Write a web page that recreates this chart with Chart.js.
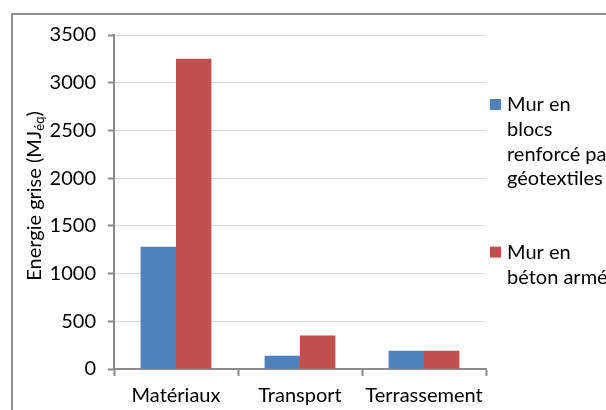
<!DOCTYPE html>
<html>
<head>
<meta charset="utf-8">
<script src="https://cdn.jsdelivr.net/npm/chart.js@4"></script>
<style>
  html, body { margin: 0; padding: 0; background: #fff; overflow: hidden; }
  #wrap { width: 606px; height: 410px; position: relative; }
</style>
</head>
<body>
<div id="wrap"><canvas id="c" width="606" height="410"></canvas></div>
<script>
// Embodied energy by stage for two retaining-wall designs
const categories = ['Matériaux', 'Transport', 'Terrassement'];
const seriesLines = [
  ['Mur en', 'blocs', 'renforcé par', 'géotextiles'],
  ['Mur en', 'béton armé']
];
const wallBlocks = [1280, 140, 190];
const wallConcrete = [3250, 350, 190];
const yTicks = [0, 500, 1000, 1500, 2000, 2500, 3000, 3500];
const yTitleParts = ['Energie grise (MJ', 'éq', ')'];

const FONT = 'Lato';
const TEXT_SIZE = 20;
const AXIS_GREY = '#8a8a8a';
const colors = ['#4F81BD', '#C0504D'];

// White page with the grey outer frame
const framePlugin = {
  id: 'frame',
  beforeDraw(chart) {
    const ctx = chart.ctx;
    ctx.save();
    ctx.fillStyle = '#fff';
    ctx.fillRect(0, 0, chart.width, chart.height);
    ctx.strokeStyle = '#8e8e8e';
    ctx.lineWidth = 2;
    ctx.strokeRect(12, 14, 700, 500);
    ctx.restore();
  }
};

// Rotated y-axis title with a subscript unit
const yTitlePlugin = {
  id: 'yTitle',
  afterDraw(chart) {
    const ctx = chart.ctx;
    const area = chart.chartArea;
    const subSize = 13;
    ctx.save();
    ctx.translate(35, (area.top + area.bottom) / 2 - 6);
    ctx.rotate(-Math.PI / 2);
    ctx.fillStyle = '#000';
    ctx.textBaseline = 'middle';
    ctx.textAlign = 'left';
    ctx.font = `${TEXT_SIZE}px ${FONT}`;
    const w1 = ctx.measureText(yTitleParts[0]).width;
    const w3 = ctx.measureText(yTitleParts[2]).width;
    ctx.font = `${subSize}px ${FONT}`;
    const w2 = ctx.measureText(yTitleParts[1]).width;
    let x = -(w1 + w2 + w3) / 2;
    ctx.font = `${TEXT_SIZE}px ${FONT}`;
    ctx.fillText(yTitleParts[0], x, 0);
    x += w1;
    ctx.font = `${subSize}px ${FONT}`;
    ctx.fillText(yTitleParts[1], x, 5);
    x += w2;
    ctx.font = `${TEXT_SIZE}px ${FONT}`;
    ctx.fillText(yTitleParts[2], x, 0);
    ctx.restore();
  }
};

// Legend on the right, with each series name wrapped over several lines
const sideLegendPlugin = {
  id: 'sideLegend',
  afterDraw(chart) {
    const ctx = chart.ctx;
    const lineH = 24.6;
    const boxX = 490, textX = 507, box = 11;
    let y = 105;
    ctx.save();
    ctx.font = `${TEXT_SIZE}px ${FONT}`;
    ctx.textBaseline = 'middle';
    ctx.textAlign = 'left';
    chart.data.datasets.forEach((ds, i) => {
      ctx.fillStyle = ds.backgroundColor;
      ctx.fillRect(boxX, y - 6, box, box);
      ctx.fillStyle = '#000';
      seriesLines[i].forEach((line, k) => {
        ctx.fillText(line, textX, y + k * lineH);
      });
      y += (seriesLines[i].length + 2) * lineH;
    });
    ctx.restore();
  }
};

new Chart(document.getElementById('c'), {
  type: 'bar',
  data: {
    labels: categories,
    datasets: [
      { label: seriesLines[0].join(' '), data: wallBlocks, backgroundColor: colors[0] },
      { label: seriesLines[1].join(' '), data: wallConcrete, backgroundColor: colors[1] }
    ]
  },
  options: {
    responsive: false,
    animation: false,
    devicePixelRatio: 1,
    layout: { padding: { left: 0, top: 35, right: 120, bottom: 0 } },
    datasets: { bar: { barPercentage: 1, categoryPercentage: 0.571 } },
    plugins: { legend: { display: false }, tooltip: { enabled: false } },
    scales: {
      x: {
        grid: { offset: true, drawOnChartArea: false, tickLength: 7, tickColor: AXIS_GREY, tickWidth: 2 },
        border: { color: AXIS_GREY, width: 2 },
        ticks: { font: { family: FONT, size: TEXT_SIZE }, color: '#000', padding: 8, maxRotation: 0 },
        afterFit(s) { s.height = 41; }
      },
      y: {
        min: 0,
        max: 3500,
        afterBuildTicks(s) { s.ticks = yTicks.map(v => ({ value: v })); },
        afterFit(s) { s.width = 114; },
        grid: { color: '#d9d9d9', lineWidth: 1, tickLength: 6, tickColor: AXIS_GREY, tickWidth: 2 },
        border: { color: AXIS_GREY, width: 2 },
        ticks: {
          font: { family: FONT, size: TEXT_SIZE }, color: '#000', padding: 12,
          callback: v => String(v)
        }
      }
    }
  },
  plugins: [framePlugin, yTitlePlugin, sideLegendPlugin]
});
</script>
</body>
</html>
